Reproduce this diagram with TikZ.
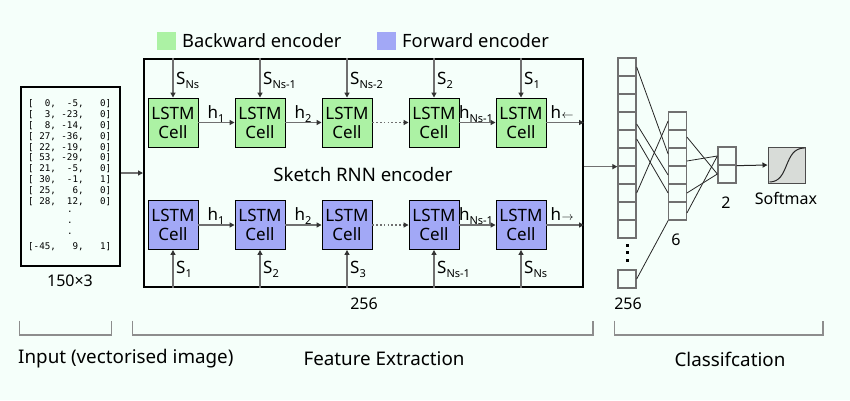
\documentclass[tikz,border=0pt]{standalone}
\usepackage{fontspec}
\setmainfont{Noto Sans}
\newfontfamily\monofont{DejaVu Sans Mono}
\usetikzlibrary{arrows.meta,calc}
\definecolor{bg}{RGB}{245,255,250}
\definecolor{gcol}{RGB}{172,242,164}
\definecolor{bcol}{RGB}{162,168,246}
\definecolor{agray}{RGB}{112,112,112}
\definecolor{sgray}{RGB}{216,220,216}
\newcommand\lsub[1]{\raisebox{-0.45ex}{\fontsize{11}{11}\selectfont #1}}
\begin{document}
\begin{tikzpicture}[x=1pt,y=-1pt,
  cellbase/.style={draw=black, line width=0.9pt, minimum width=50pt, minimum height=49pt, inner sep=0pt, align=center, font=\fontsize{17}{19}\selectfont},
  gcell/.style={cellbase, fill=gcol},
  bcell/.style={cellbase, fill=bcol},
  lab/.style={inner sep=0pt, font=\fontsize{17}{19}\selectfont},
  biglab/.style={inner sep=0pt, font=\fontsize{18.3}{20}\selectfont},
  numlab/.style={inner sep=0pt, font=\fontsize{16}{18}\selectfont},
  garrow/.style={draw=agray, line width=1.6pt, -{Triangle[length=5pt,width=5pt,color=black!80]}},
  darrow/.style={garrow, dash pattern=on 1.6pt off 2.2pt},
  ncell/.style={draw=agray, line width=1.3pt, minimum width=18pt, minimum height=18pt, inner sep=0pt},
  nline/.style={draw=black!85, line width=0.8pt},
  brk/.style={draw=agray!80, line width=1.3pt},
  mrow/.style={inner sep=0pt, anchor=west, font=\monofont\fontsize{9.2}{10}\selectfont},
  mdot/.style={inner sep=0pt, font=\monofont\fontsize{9.2}{10}\selectfont}
]
\useasboundingbox (0,0) rectangle (850,400);
\fill[bg] (0,0) rectangle (850,400);

% legend
\fill[gcol] (157,32) rectangle (176,50);
\node[biglab, anchor=west] (legB) at (182,41) {Backward encoder};
\fill[bcol] (377,32) rectangle (396,50);
\node[biglab, anchor=west] (legF) at (402,41) {Forward encoder};

% input box
\node[draw, line width=2.2pt, minimum width=99pt, minimum height=179pt, inner sep=0pt] (inp) at (70.5,176.5) {};
\foreach \r [count=\i] in {{[~~0,~~-5,~~~0]},{[~~3,~-23,~~~0]},{[~~8,~-14,~~~0]},{[~27,~-36,~~~0]},{[~22,~-19,~~~0]},{[~53,~-29,~~~0]},{[~21,~~-5,~~~0]},{[~30,~~-1,~~~1]},{[~25,~~~6,~~~0]},{[~28,~~12,~~~0]}}
  \node[mrow] (m\i) at (28,{104+10.8*(\i-1)}) {\r};
\node[mdot] (md1) at (70,212) {.};
\node[mdot] (md2) at (70,223) {.};
\node[mdot] (md3) at (70,234) {.};
\node[mrow] (mlast) at (28,247) {[-45,~~~9,~~~1]};
\node[numlab] (inlab) at (70,281) {150×3};

% encoder box
\node[draw, line width=2pt, minimum width=439pt, minimum height=228pt, inner sep=0pt] (enc) at (363.5,173) {};
\node[biglab, font=\fontsize{18.6}{20}\selectfont] (title) at (363,175) {Sketch RNN encoder};
\node[numlab] (enclab) at (364,304) {256};

\draw[garrow] (inp.east |- enc.west) -- (enc.west);

% cells
\foreach \i/\x in {1/173,2/260,3/347,4/434,5/521}{
  \node[gcell] (g\i) at (\x,122.5) {LSTM\\Cell};
  \node[bcell] (b\i) at (\x,225) {LSTM\\Cell};
  \draw[garrow] (g\i.north |- enc.north) -- (g\i.north);
  \draw[garrow] (b\i.south |- enc.south) -- (b\i.south);
}
% top S labels
\node[lab, anchor=base west] (st1) at (176,84) {S\lsub{Ns}};
\node[lab, anchor=base west] (st2) at (263,84) {S\lsub{Ns-1}};
\node[lab, anchor=base west] (st3) at (350,84) {S\lsub{Ns-2}};
\node[lab, anchor=base west] (st4) at (437,84) {S\lsub{2}};
\node[lab, anchor=base west] (st5) at (524,84) {S\lsub{1}};
% bottom S labels
\node[lab, anchor=base west] (sb1) at (176,273) {S\lsub{1}};
\node[lab, anchor=base west] (sb2) at (263,273) {S\lsub{2}};
\node[lab, anchor=base west] (sb3) at (350,273) {S\lsub{3}};
\node[lab, anchor=base west] (sb4) at (437,273) {S\lsub{Ns-1}};
\node[lab, anchor=base west] (sb5) at (524,273) {S\lsub{Ns}};

% horizontal arrows
\draw[garrow] (g1.east) -- (g2.west);
\draw[garrow] (g2.east) -- (g3.west);
\draw[darrow] (g3.east) -- (g4.west);
\draw[garrow] (g4.east) -- (g5.west);
\draw[garrow] (g5.east) -- (g5.east -| enc.east);
\draw[garrow] (b1.east) -- (b2.west);
\draw[garrow] (b2.east) -- (b3.west);
\draw[darrow] (b3.east) -- (b4.west);
\draw[garrow] (b4.east) -- (b5.west);
\draw[garrow] (b5.east) -- (b5.east -| enc.east);

\node[lab, anchor=base] (ht1) at (216,118) {h\lsub{1}};
\node[lab, anchor=base] (ht2) at (303,118) {h\lsub{2}};
\node[lab, anchor=base] (ht4) at (476,118) {h\lsub{Ns-1}};
\node[lab, anchor=base] (ht5) at (562,118) {h\kern0.5pt$\scriptstyle\leftarrow$};
\node[lab, anchor=base] (hb1) at (216,220) {h\lsub{1}};
\node[lab, anchor=base] (hb2) at (303,220) {h\lsub{2}};
\node[lab, anchor=base] (hb4) at (476,220) {h\lsub{Ns-1}};
\node[lab, anchor=base] (hb5) at (562,220) {h\kern0.5pt$\scriptstyle\rightarrow$};

% classification network
\foreach \i in {1,...,10} \node[ncell] (a\i) at (627,{49+18*\i}) {};
\node[ncell] (ab) at (627,279) {};
\fill[black] (625.5,243.5) rectangle +(3,3);
\fill[black] (625.5,251) rectangle +(3,3);
\fill[black] (625.5,258.5) rectangle +(3,3);
\node[numlab] (alab) at (628,304) {256};
\foreach \i in {1,...,6} \node[ncell, minimum width=17.5pt] (d\i) at (677.5,{103+18*\i}) {};
\node[numlab] (dlab) at (676,240) {6};
\node[ncell] (e1) at (727,156) {};
\node[ncell] (e2) at (727,174) {};
\node[numlab] (elab) at (726,203) {2};
\node[draw=black!70, fill=sgray, line width=1pt, minimum width=37pt, minimum height=36pt, inner sep=0pt] (sm) at (786.5,165) {};
\draw[line width=1pt, black!85] (769.5,182) .. controls (790,182) and (783,148) .. (804.5,148);
\node[numlab] (smlab) at (786,198) {Softmax};

\draw[garrow] (enc.east |- a6.south west) -- (a6.south west);
\draw[nline] (a1.east) -- ($(d3.west)+(0,-3)$);
\draw[nline] ($(a4.east)+(0,3)$) -- (d4.west);
\draw[nline] (a5.east) -- (d5.west);
\draw[nline] (a8.east) -- (d1.west);
\draw[nline] (ab.east) -- (d6.south west);
\draw[nline] ($(d2.east)+(0,-2)$) -- (e2.west);
\draw[nline] ($(d3.east)+(0,4)$) -- (e1.west);
\draw[nline] (d5.east) -- (e2.west);
\draw[nline] ($(d6.east)+(0,2)$) -- (e1.west);
\draw[line width=1pt, black!85, -{Triangle[length=5pt,width=5pt]}] (e1.south east) -- (sm.west);

% brackets and section labels
\draw[brk] (19.6,320.7) |- (111.7,335) -- (111.7,320.7);
\draw[brk] (132.4,320.7) |- (593,335) -- (593,320.7);
\draw[brk] (614.7,320.7) |- (823,335) -- (823,320.7);
\node[biglab, anchor=west, font=\fontsize{18.8}{20}\selectfont] (sec1) at (18,359) {Input (vectorised image)};
\node[biglab, font=\fontsize{18.8}{20}\selectfont] (sec2) at (384,359) {Feature Extraction};
\node[biglab, font=\fontsize{18.8}{20}\selectfont] (sec3) at (730,359) {Classifcation};
\end{tikzpicture}
\end{document}
